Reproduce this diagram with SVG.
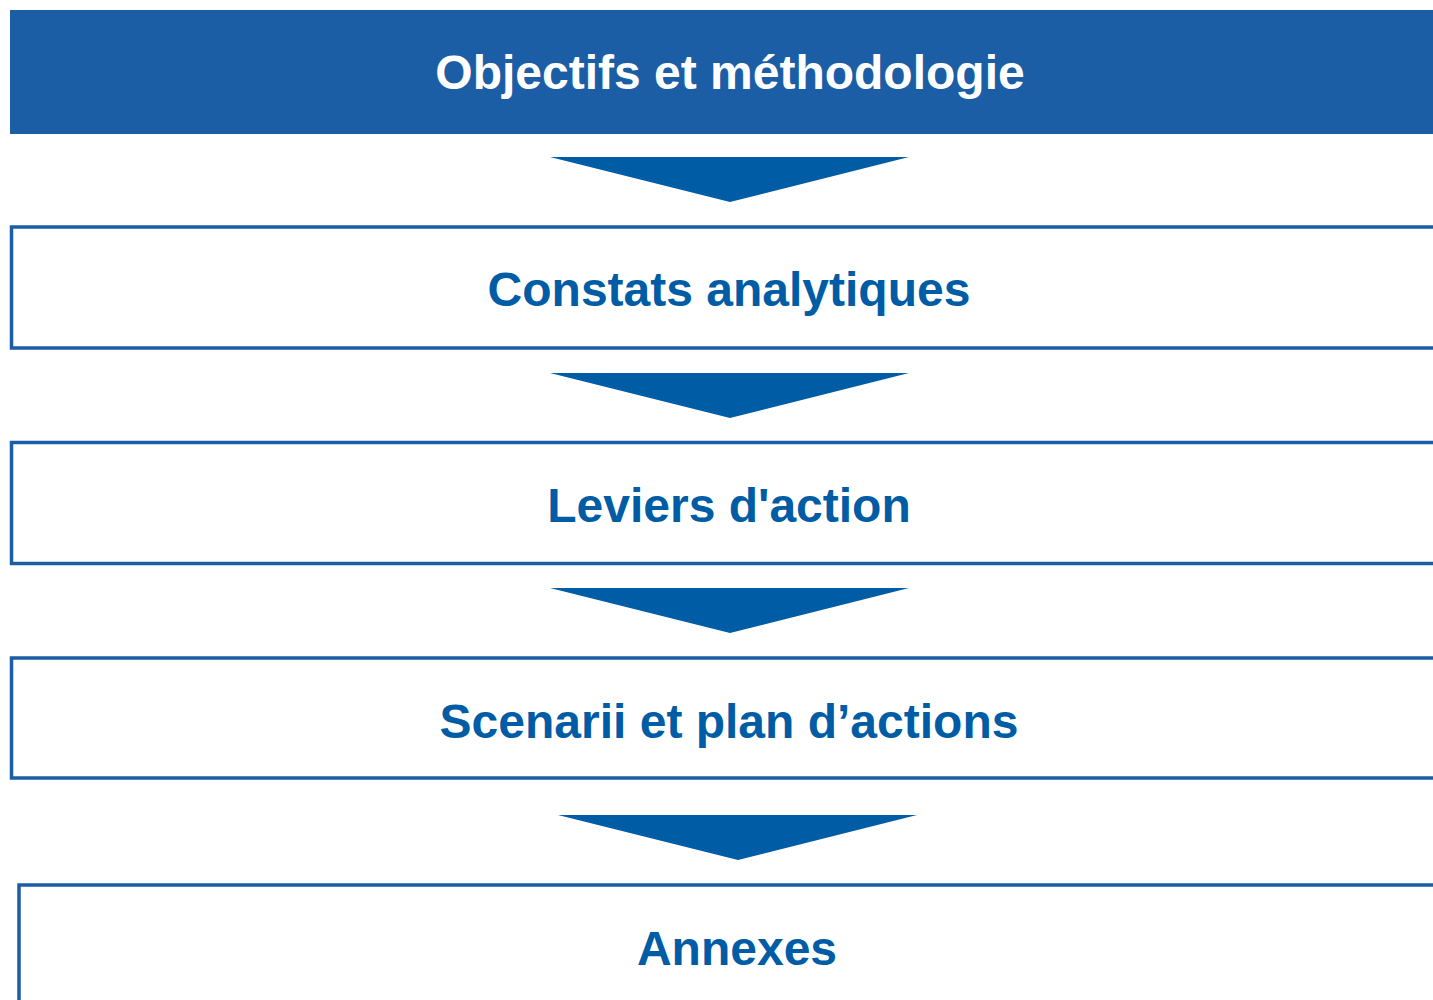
<svg xmlns="http://www.w3.org/2000/svg" width="1433" height="1000" viewBox="0 0 1433 1000">
<style>
.box{fill:#ffffff;stroke:#1B5EA6;stroke-width:3.5}
.arrow{fill:#005CA5}
.t{font-family:"Liberation Sans",Arial,sans-serif;font-weight:bold;font-size:48px;text-anchor:middle;fill:#005CA5}
.tw{fill:#ffffff}
</style>
<rect width="1433" height="1000" fill="#ffffff"/>
<g id="connectors">
<polygon class="arrow" points="550,157 909,157 730,202"/>
<polygon class="arrow" points="550,373 909,373 730,418"/>
<polygon class="arrow" points="550,588 909,588 730,633"/>
<polygon class="arrow" points="558,815 917,815 738,860"/>
</g>
<g id="node1">
<rect x="10" y="10" width="1440" height="124" fill="#1B5EA6"/>
<text class="t tw" x="730" y="89">Objectifs et méthodologie</text>
</g>
<g id="node2">
<rect class="box" x="11.5" y="227" width="1440" height="121"/>
<text class="t" x="729" y="306">Constats analytiques</text>
</g>
<g id="node3">
<rect class="box" x="11.5" y="442.5" width="1440" height="121"/>
<text class="t" x="729" y="522">Leviers d'action</text>
</g>
<g id="node4">
<rect class="box" x="11.5" y="658" width="1440" height="120"/>
<text class="t" x="729" y="738">Scenarii et plan d’actions</text>
</g>
<g id="node5">
<rect class="box" x="19" y="885" width="1440" height="140"/>
<text class="t" x="737" y="965">Annexes</text>
</g>
</svg>
